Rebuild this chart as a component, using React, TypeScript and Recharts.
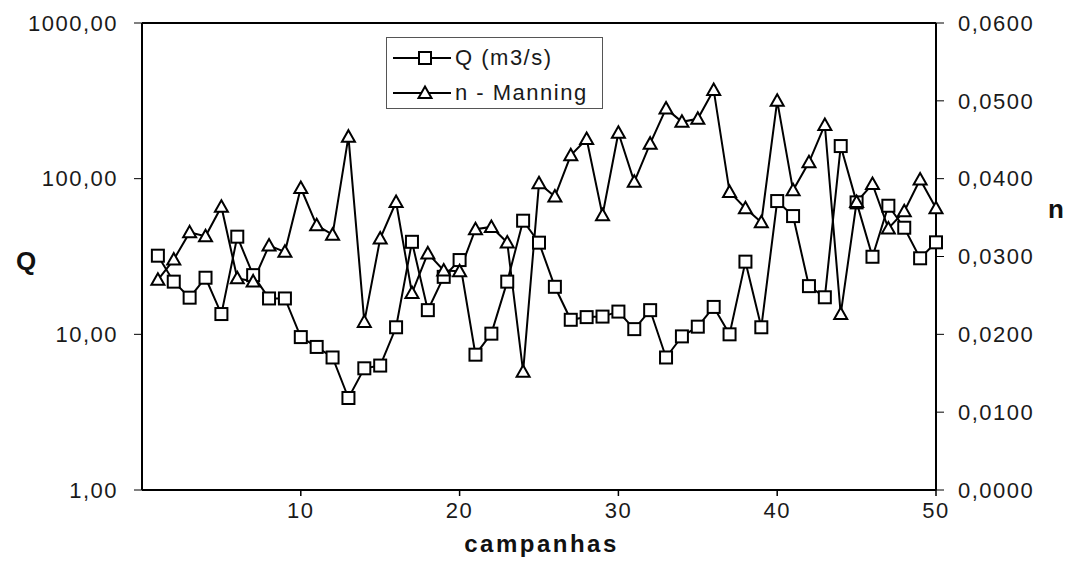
import React from 'react';
import { LineChart, Line, XAxis, YAxis, ReferenceLine, Legend } from 'recharts';

const campanhas = [
  1, 2, 3, 4, 5, 6, 7, 8, 9, 10,
  11, 12, 13, 14, 15, 16, 17, 18, 19, 20,
  21, 22, 23, 24, 25, 26, 27, 28, 29, 30,
  31, 32, 33, 34, 35, 36, 37, 38, 39, 40,
  41, 42, 43, 44, 45, 46, 47, 48, 49, 50,
];

const vazaoQ = [
  32.0, 21.8, 17.2, 23.1, 13.5, 42.4, 24.0, 17.0, 17.0, 9.6,
  8.3, 7.1, 3.9, 6.05, 6.3, 11.1, 39.3, 14.3, 23.4, 30.0,
  7.4, 10.1, 21.8, 53.7, 38.8, 20.2, 12.4, 12.9, 13.0, 14.0,
  10.8, 14.3, 7.1, 9.7, 11.2, 15.0, 10.0, 29.3, 11.1, 71.8,
  57.5, 20.4, 17.3, 162, 70.4, 31.5, 67, 48.4, 30.8, 39.0,
];

const manningN = [
  0.0270, 0.0296, 0.0331, 0.0326, 0.0364, 0.0272, 0.0268, 0.0314, 0.0306, 0.0388,
  0.0340, 0.0328, 0.0454, 0.0216, 0.0323, 0.0370, 0.0253, 0.0304, 0.0282, 0.0281,
  0.0335, 0.0338, 0.0318, 0.0152, 0.0394, 0.0377, 0.0430, 0.0451, 0.0353, 0.0459,
  0.0396, 0.0445, 0.0490, 0.0473, 0.0477, 0.0514, 0.0383, 0.0362, 0.0344, 0.0500,
  0.0385, 0.0421, 0.0469, 0.0226, 0.0370, 0.0393, 0.0336, 0.0358, 0.0399, 0.0362,
];

const xTicks = [10, 20, 30, 40, 50];
const qTicks = [1, 10, 100, 1000];
const nTicks = [0, 0.01, 0.02, 0.03, 0.04, 0.05, 0.06];

const seriesQ = 'Q (m3/s)';
const seriesN = 'n - Manning';

const data = campanhas.map((c, i) => ({ campanha: c, Q: vazaoQ[i], n: manningN[i] }));

const FONT = '"Liberation Sans", Arial, sans-serif';
const tickStyle = { fontFamily: FONT, fontSize: 22, fill: '#1a1a1a', letterSpacing: 1.5 };

const SquareDot = (props: any) => {
  const { cx, cy } = props;
  if (cx == null || cy == null) return null;
  return <rect x={cx - 6} y={cy - 6} width={12} height={12} fill="#fff" stroke="#000" strokeWidth={2} />;
};

const TriangleDot = (props: any) => {
  const { cx, cy } = props;
  if (cx == null || cy == null) return null;
  return (
    <path
      d={`M${cx},${cy - 6.5} L${cx + 6.5},${cy + 5} L${cx - 6.5},${cy + 5} Z`}
      fill="#fff"
      stroke="#000"
      strokeWidth={2}
    />
  );
};

const LegendRow = ({ label, kind }: { label: string; kind: 'sq' | 'tri' }) => (
  <div style={{ display: 'flex', alignItems: 'center', height: 35 }}>
    <svg width={60} height={20} style={{ marginLeft: 6 }}>
      <line x1={0} y1={10} x2={58} y2={10} stroke="#000" strokeWidth={2} />
      {kind === 'sq' ? (
        <rect x={26} y={4} width={12} height={12} fill="#fff" stroke="#000" strokeWidth={2} />
      ) : (
        <path d="M32,3.5 L38.5,15 L25.5,15 Z" fill="#fff" stroke="#000" strokeWidth={2} />
      )}
    </svg>
    <span style={{ fontFamily: FONT, fontSize: 22, letterSpacing: 1.5, color: '#1a1a1a', marginLeft: 2, whiteSpace: 'pre' }}>
      {label}
    </span>
  </div>
);

const renderLegend = () => (
  <div
    style={{
      width: 217,
      height: 72,
      boxSizing: 'border-box',
      border: '1.5px solid #555',
      background: '#fff',
      paddingTop: 2,
    }}
  >
    <LegendRow label={seriesQ} kind="sq" />
    <LegendRow label={seriesN} kind="tri" />
  </div>
);

const fmtQ = (v: number) => v.toFixed(2).replace('.', ',');
const fmtN = (v: number) => v.toFixed(4).replace('.', ',');

export default function App() {
  return (
    <div style={{ position: 'fixed', left: 0, top: 0, width: 1075, height: 567, background: '#fff' }}>
      <LineChart width={1075} height={567} data={data} margin={{ top: 23, right: 0, bottom: 0, left: 0 }}>
        <XAxis
          dataKey="campanha"
          type="number"
          domain={[0, 50]}
          ticks={xTicks}
          height={77}
          axisLine={{ stroke: '#000', strokeWidth: 2 }}
          tickLine={{ stroke: '#000', strokeWidth: 1.5 }}
          tickSize={6}
          tickMargin={6}
          tick={tickStyle}
          interval={0}
        />
        <YAxis
          yAxisId="left"
          orientation="left"
          scale="log"
          domain={[1, 1000]}
          ticks={qTicks}
          allowDataOverflow
          width={142}
          axisLine={{ stroke: '#000', strokeWidth: 2 }}
          tickLine={{ stroke: '#000', strokeWidth: 1 }}
          tickSize={8}
          tickMargin={16}
          tick={tickStyle}
          tickFormatter={fmtQ}
          interval={0}
        />
        <YAxis
          yAxisId="right"
          orientation="right"
          domain={[0, 0.06]}
          ticks={nTicks}
          allowDataOverflow
          width={139}
          axisLine={{ stroke: '#000', strokeWidth: 2 }}
          tickLine={{ stroke: '#000', strokeWidth: 1 }}
          tickSize={8}
          tickMargin={14}
          tick={tickStyle}
          tickFormatter={fmtN}
          interval={0}
        />
        <ReferenceLine yAxisId="left" y={1000} stroke="#000" strokeWidth={2} />
        <Legend
          content={renderLegend}
          layout="horizontal"
          align="center"
          verticalAlign="middle"
          wrapperStyle={{ left: 386, top: 37, width: 217, height: 72 }}
        />
        <Line
          yAxisId="left"
          dataKey="Q"
          name={seriesQ}
          stroke="#000"
          strokeWidth={2}
          dot={SquareDot}
          activeDot={false}
          isAnimationActive={false}
        />
        <Line
          yAxisId="right"
          dataKey="n"
          name={seriesN}
          stroke="#000"
          strokeWidth={2}
          dot={TriangleDot}
          activeDot={false}
          isAnimationActive={false}
        />
      </LineChart>
      <div style={{ position: 'absolute', left: 16, top: 246, fontFamily: FONT, fontWeight: 'bold', fontSize: 26, color: '#111' }}>Q</div>
      <div style={{ position: 'absolute', left: 1048, top: 194, fontFamily: FONT, fontWeight: 'bold', fontSize: 26, color: '#111' }}>n</div>
      <div
        style={{
          position: 'absolute',
          left: 0,
          width: 1075,
          textAlign: 'center',
          top: 530,
          fontFamily: FONT,
          fontWeight: 'bold',
          fontSize: 24,
          letterSpacing: 2.5,
          color: '#111',
          paddingLeft: 8,
          boxSizing: 'border-box',
        }}
      >
        campanhas
      </div>
    </div>
  );
}
